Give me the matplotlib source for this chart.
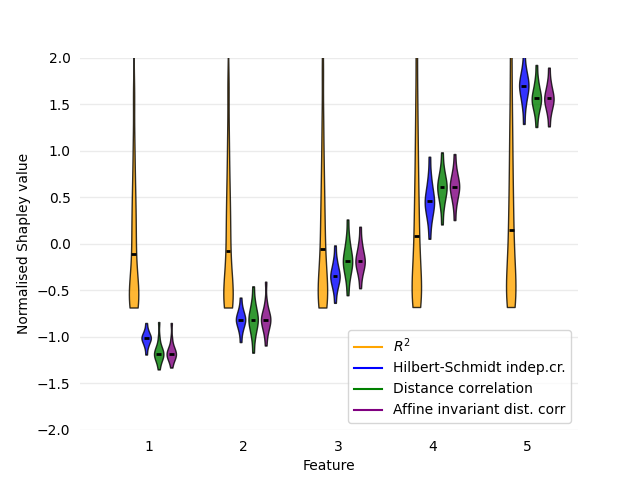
import matplotlib
matplotlib.use('Agg')
import matplotlib.pyplot as plt
from matplotlib.lines import Line2D

features = [1, 2, 3, 4, 5]
method_labels = ['$R^2$', 'Hilbert-Schmidt indep.cr.', 'Distance correlation',
                 'Affine invariant dist. corr']
colors = ['orange', 'blue', 'green', 'purple']

# approximate sample values (min ... median ... max)
r2_vals = [
    [-0.684, -0.67, -0.65, -0.62, -0.59, -0.55, -0.50, -0.44, -0.36, -0.25, -0.105,
     0.02, 0.15, 0.28, 0.42, 0.58, 0.80, 1.1, 1.6, 2.5, 4.0],
    [-0.684, -0.67, -0.65, -0.62, -0.58, -0.54, -0.49, -0.42, -0.34, -0.22, -0.077,
     0.05, 0.18, 0.32, 0.47, 0.65, 0.88, 1.2, 1.7, 2.6, 4.2],
    [-0.684, -0.67, -0.64, -0.60, -0.56, -0.51, -0.45, -0.38, -0.29, -0.18, -0.05,
     0.08, 0.22, 0.37, 0.54, 0.74, 1.0, 1.35, 1.9, 2.8, 4.5],
    [-0.684, -0.66, -0.63, -0.58, -0.52, -0.45, -0.37, -0.28, -0.17, -0.05, 0.088,
     0.23, 0.38, 0.55, 0.75, 0.98, 1.25, 1.6, 2.1, 3.0, 4.8],
    [-0.684, -0.66, -0.62, -0.57, -0.51, -0.44, -0.35, -0.25, -0.13, 0.0, 0.145,
     0.30, 0.47, 0.66, 0.88, 1.12, 1.4, 1.8, 2.3, 3.2, 5.0],
]
hsic_vals = [
    [-1.19, -1.125, -1.091, -1.068, -1.050, -1.036, -1.024, -1.013,
     -1.003, -0.992, -0.979, -0.963, -0.941, -0.910, -0.85],
    [-1.056, -0.966, -0.920, -0.888, -0.864, -0.845, -0.828, -0.813,
     -0.799, -0.782, -0.763, -0.740, -0.709, -0.664, -0.577],
    [-0.634, -0.527, -0.472, -0.435, -0.406, -0.383, -0.362, -0.345,
     -0.325, -0.302, -0.276, -0.243, -0.200, -0.138, -0.016],
    [0.055, 0.205, 0.281, 0.334, 0.374, 0.407, 0.435, 0.459,
     0.488, 0.521, 0.560, 0.608, 0.670, 0.761, 0.938],
    [1.29, 1.442, 1.520, 1.573, 1.614, 1.647, 1.675, 1.70,
     1.722, 1.747, 1.776, 1.812, 1.858, 1.927, 2.06],
]
dcor_vals = [
    [-1.35, -1.287, -1.255, -1.233, -1.216, -1.202, -1.190, -1.18,
     -1.165, -1.150, -1.132, -1.110, -1.080, -1.0, -0.84],
    [-1.17, -1.038, -0.970, -0.924, -0.888, -0.859, -0.834, -0.813,
     -0.792, -0.767, -0.738, -0.702, -0.656, -0.588, -0.456],
    [-0.552, -0.414, -0.344, -0.295, -0.258, -0.228, -0.202, -0.18,
     -0.153, -0.122, -0.087, -0.043, 0.015, 0.099, 0.263],
    [0.209, 0.357, 0.433, 0.485, 0.525, 0.557, 0.585, 0.609,
     0.632, 0.658, 0.688, 0.726, 0.774, 0.846, 0.985],
    [1.257, 1.371, 1.429, 1.469, 1.500, 1.524, 1.546, 1.564,
     1.586, 1.611, 1.640, 1.676, 1.723, 1.791, 1.925],
]
aidc_vals = [
    [-1.33, -1.275, -1.246, -1.227, -1.212, -1.200, -1.189, -1.18,
     -1.166, -1.152, -1.135, -1.113, -1.085, -1.01, -0.85],
    [-1.093, -0.989, -0.936, -0.900, -0.872, -0.849, -0.830, -0.813,
     -0.796, -0.778, -0.756, -0.728, -0.690, -0.610, -0.406],
    [-0.477, -0.367, -0.311, -0.272, -0.242, -0.219, -0.198, -0.18,
     -0.158, -0.133, -0.103, -0.067, -0.019, 0.050, 0.185],
    [0.256, 0.390, 0.458, 0.505, 0.541, 0.570, 0.595, 0.617,
     0.638, 0.663, 0.691, 0.726, 0.771, 0.838, 0.967],
    [1.264, 1.375, 1.432, 1.471, 1.501, 1.525, 1.546, 1.564,
     1.584, 1.607, 1.634, 1.667, 1.710, 1.773, 1.896],
]
offsets = [-0.165, -0.032, 0.101, 0.234]

fig, ax = plt.subplots(figsize=(6.42, 4.83), dpi=100)

all_vals = [r2_vals, hsic_vals, dcor_vals, aidc_vals]
bws = [0.18, 0.4, 0.4, 0.4]
for vals, off, col, bw in zip(all_vals, offsets, colors, bws):
    pos = [f + off for f in features]
    parts = ax.violinplot(vals, positions=pos, widths=0.1, showmedians=True,
                          showextrema=False, bw_method=bw)
    for body in parts['bodies']:
        body.set_facecolor(col)
        body.set_edgecolor('black')
        body.set_linewidth(1)
        body.set_alpha(0.8)
    parts['cmedians'].set_color('black')
    parts['cmedians'].set_linewidth(2)

ax.set_ylim(-2, 2)
ax.set_xlim(0.27, 5.54)
ax.set_xticks(features)
ax.set_yticks([-2.0, -1.5, -1.0, -0.5, 0.0, 0.5, 1.0, 1.5, 2.0])
ax.yaxis.grid(True, color='#ebebeb', linewidth=1)
ax.set_axisbelow(True)
for s in ax.spines.values():
    s.set_visible(False)
ax.tick_params(color='none')
ax.set_xlabel('Feature')
ax.set_ylabel('Normalised Shapley value')

handles = [Line2D([0], [0], color=c) for c in colors]
ax.legend(handles, method_labels, loc='lower right')

plt.savefig('out.png', dpi=100)
